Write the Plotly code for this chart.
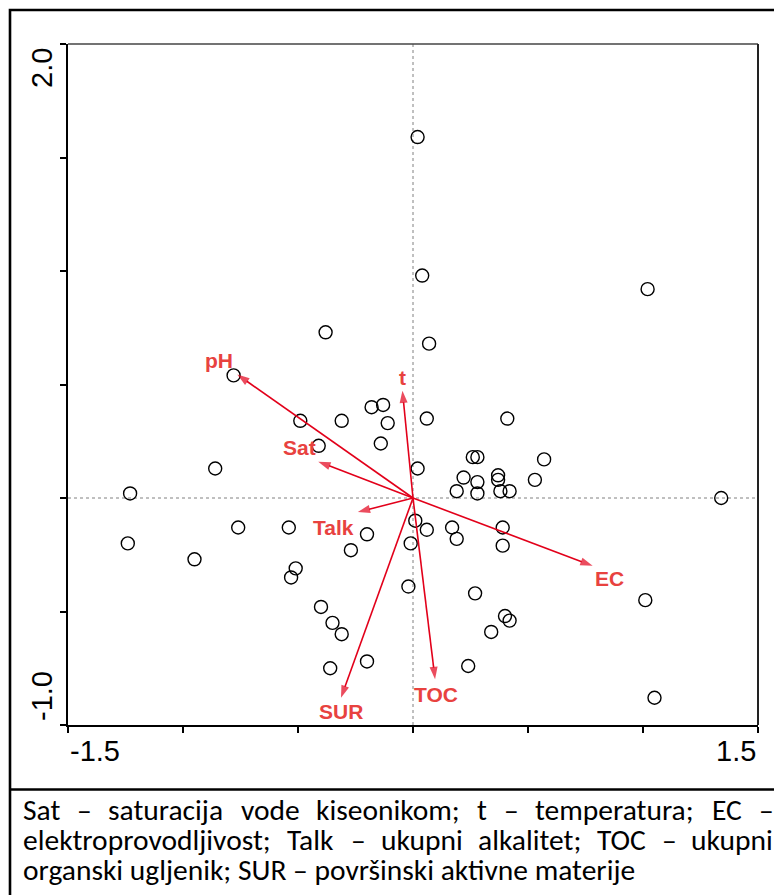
import plotly.graph_objects as go

# ---------------- data ----------------
site_x = [0.02, 0.04, 1.02, -0.38, -0.78, -0.18, -0.13, -0.49, -0.31, -0.11,
          -0.41, -0.14, -0.86, 0.02, -1.23, -0.76, -0.54, -1.24, -0.20, -0.27,
          -0.01, 0.01, -0.95, -0.51, -0.53, -0.02, -0.40, -0.35, -0.31, -0.20,
          -0.36, 0.07, 0.06, 0.41, 0.26, 0.28, 0.57, 0.22, 0.37, 0.37,
          0.53, 0.28, 0.19, 0.38, 0.42, 0.28, 1.34, 0.06, 0.17, 0.19,
          0.39, 0.39, 0.27, 0.40, 0.42, 0.34, 0.24, 1.01, 1.05]
site_y = [1.59, 0.98, 0.92, 0.73, 0.54, 0.40, 0.41, 0.34, 0.34, 0.33,
          0.23, 0.24, 0.13, 0.13, 0.02, -0.13, -0.13, -0.20, -0.16, -0.23,
          -0.20, -0.10, -0.27, -0.31, -0.35, -0.39, -0.48, -0.55, -0.60, -0.72,
          -0.75, 0.68, 0.35, 0.35, 0.18, 0.18, 0.17, 0.09, 0.10, 0.08,
          0.08, 0.07, 0.03, 0.03, 0.03, 0.02, 0.00, -0.14, -0.13, -0.18,
          -0.13, -0.21, -0.42, -0.52, -0.54, -0.59, -0.74, -0.45, -0.88]

env_names = ["pH", "Sat", "Talk", "t", "EC", "TOC", "SUR"]
env_x = [-0.764, -0.412, -0.240, -0.046, 0.781, 0.096, -0.313]
env_y = [0.544, 0.160, -0.062, 0.473, -0.299, -0.798, -0.880]

x_range = [-1.5, 1.5]
y_range = [-1.0, 2.0]
x_tick_vals = [-1.5, -1.0, -0.5, 0.0, 0.5, 1.0, 1.5]
y_tick_vals = [-1.0, -0.5, 0.0, 0.5, 1.0, 1.5, 2.0]
x_tick_labels = ["-1.5", "1.5"]
y_tick_labels = ["2.0", "-1.0"]

caption_lines = [
    "Sat \u2013 saturacija vode kiseonikom; t \u2013 temperatura; EC \u2013",
    "elektroprovodljivost; Talk \u2013 ukupni alkalitet; TOC \u2013 ukupni",
    "organski ugljenik; SUR \u2013 površinski aktivne materije",
]
caption_justified = [True, True, False]

# ---------------- styling ----------------
W, H = 774, 895
ML, MR, MT, MB = 68, 16, 44, 170
PW, PH = W - ML - MR, H - MT - MB


def pxx(px):
    return (px - ML) / PW


def pxy(py):
    return (H - MB - py) / PH


ARROW_C = "#E2001A"
LABEL_C = "#E8423F"
label_shift = {"pH": (-18, 14), "Sat": (-19, 14), "Talk": (-24, -15), "t": (0, 13),
               "EC": (17, -13), "TOC": (1, -15), "SUR": (0, -14)}

fig = go.Figure()

fig.add_trace(go.Scatter(
    x=site_x, y=site_y, mode="markers",
    marker=dict(symbol="circle-open", size=13, color="black", line=dict(width=1.4)),
    showlegend=False, hoverinfo="skip"))

annotations = []
for name, ex, ey in zip(env_names, env_x, env_y):
    fig.add_trace(go.Scatter(
        x=[0, ex], y=[0, ey], mode="lines+markers",
        line=dict(color=ARROW_C, width=1.6),
        marker=dict(symbol="arrow", size=[0, 13], angleref="previous",
                    color=ARROW_C, line=dict(width=0)),
        showlegend=False, hoverinfo="skip"))
    dx, dy = label_shift[name]
    annotations.append(dict(x=ex, y=ey, xref="x", yref="y", text=name, showarrow=False,
                            xshift=dx, yshift=dy, xanchor="center", yanchor="middle",
                            font=dict(family="Liberation Sans, Arial", size=21,
                                      color=LABEL_C, weight="bold")))

TICK_FONT = dict(family="Liberation Sans, Arial", size=29, color="black")
annotations.append(dict(x=x_range[0], y=pxy(751), xref="x", yref="paper", text=x_tick_labels[0],
                        showarrow=False, xanchor="left", yanchor="middle", font=TICK_FONT))
annotations.append(dict(x=x_range[1], y=pxy(751), xref="x", yref="paper", text=x_tick_labels[1],
                        showarrow=False, xanchor="right", yanchor="middle", font=TICK_FONT))
annotations.append(dict(x=pxx(42), y=pxy(68), xref="paper", yref="paper", text=y_tick_labels[0],
                        textangle=-90, showarrow=False, xanchor="center", yanchor="middle",
                        font=TICK_FONT))
annotations.append(dict(x=pxx(42), y=pxy(696), xref="paper", yref="paper", text=y_tick_labels[1],
                        textangle=-90, showarrow=False, xanchor="center", yanchor="middle",
                        font=TICK_FONT))

# ---- caption: justified text laid out with Calibri/Carlito advance widths ----
CAP_SIZE = 29.5
CAP_FONT = dict(family="Carlito, Calibri, sans-serif", size=CAP_SIZE, color="black")
ADV = {" ": 0.226, "a": 0.479, "c": 0.423, "d": 0.525, "e": 0.498, "g": 0.471, "i": 0.229,
       "j": 0.239, "k": 0.455, "l": 0.229, "m": 0.799, "n": 0.525, "o": 0.527, "p": 0.525,
       "r": 0.349, "s": 0.391, "\u0161": 0.391, "t": 0.335, "u": 0.525, "v": 0.452,
       ";": 0.268, "\u2013": 0.498, "S": 0.459, "E": 0.488, "C": 0.533, "T": 0.487,
       "O": 0.662, "U": 0.653, "R": 0.543}
CAP_L, CAP_R = 20.7, 771.5
CAP_Y = [810, 840, 870]


def text_w(s):
    return sum(ADV.get(ch, 0.5) for ch in s) * CAP_SIZE


def cap_ann(xp, yc, txt):
    return dict(x=pxx(xp), y=pxy(yc), xref="paper", yref="paper", text=txt,
                showarrow=False, xanchor="left", yanchor="middle", font=CAP_FONT)


for line, just, yc in zip(caption_lines, caption_justified, CAP_Y):
    if not just:
        annotations.append(cap_ann(CAP_L, yc, line))
        continue
    words = line.split(" ")
    widths = [text_w(w) for w in words]
    gap = (CAP_R - CAP_L - sum(widths)) / (len(words) - 1)
    xp = CAP_L
    for w, ww in zip(words, widths):
        annotations.append(cap_ann(xp, yc, w))
        xp += ww + gap

shapes = [
    dict(type="line", xref="x", yref="y", x0=0, x1=0, y0=y_range[0], y1=y_range[1],
         line=dict(color="#808080", width=1, dash="dot"), layer="below"),
    dict(type="line", xref="x", yref="y", x0=x_range[0], x1=x_range[1], y0=0, y1=0,
         line=dict(color="#808080", width=1, dash="dot"), layer="below"),
    dict(type="line", xref="paper", yref="paper", x0=0, x1=1, y0=1, y1=1,
         line=dict(color="#444444", width=1.3)),
    dict(type="line", xref="paper", yref="paper", x0=1, x1=1, y0=0, y1=1,
         line=dict(color="#222222", width=2)),
    dict(type="rect", xref="paper", yref="paper", x0=pxx(10), x1=pxx(790), y0=pxy(910), y1=pxy(10),
         line=dict(color="black", width=2.6)),
    dict(type="line", xref="paper", yref="paper", x0=pxx(10), x1=pxx(790), y0=pxy(789.5),
         y1=pxy(789.5), line=dict(color="black", width=2.6)),
]

axis_common = dict(showgrid=False, zeroline=False, showline=True, linecolor="black",
                   linewidth=2, mirror=False, ticks="outside", ticklen=6, tickwidth=1.5,
                   tickcolor="black", showticklabels=False)
fig.update_layout(
    width=W, height=H, margin=dict(l=ML, r=MR, t=MT, b=MB),
    paper_bgcolor="white", plot_bgcolor="white",
    xaxis=dict(range=x_range, tickvals=x_tick_vals, **axis_common),
    yaxis=dict(range=y_range, tickvals=y_tick_vals, **axis_common),
    annotations=annotations, shapes=shapes, showlegend=False,
)

fig.write_html("out.html", config={"displayModeBar": False},
               post_script="document.body.style.margin='0';")
